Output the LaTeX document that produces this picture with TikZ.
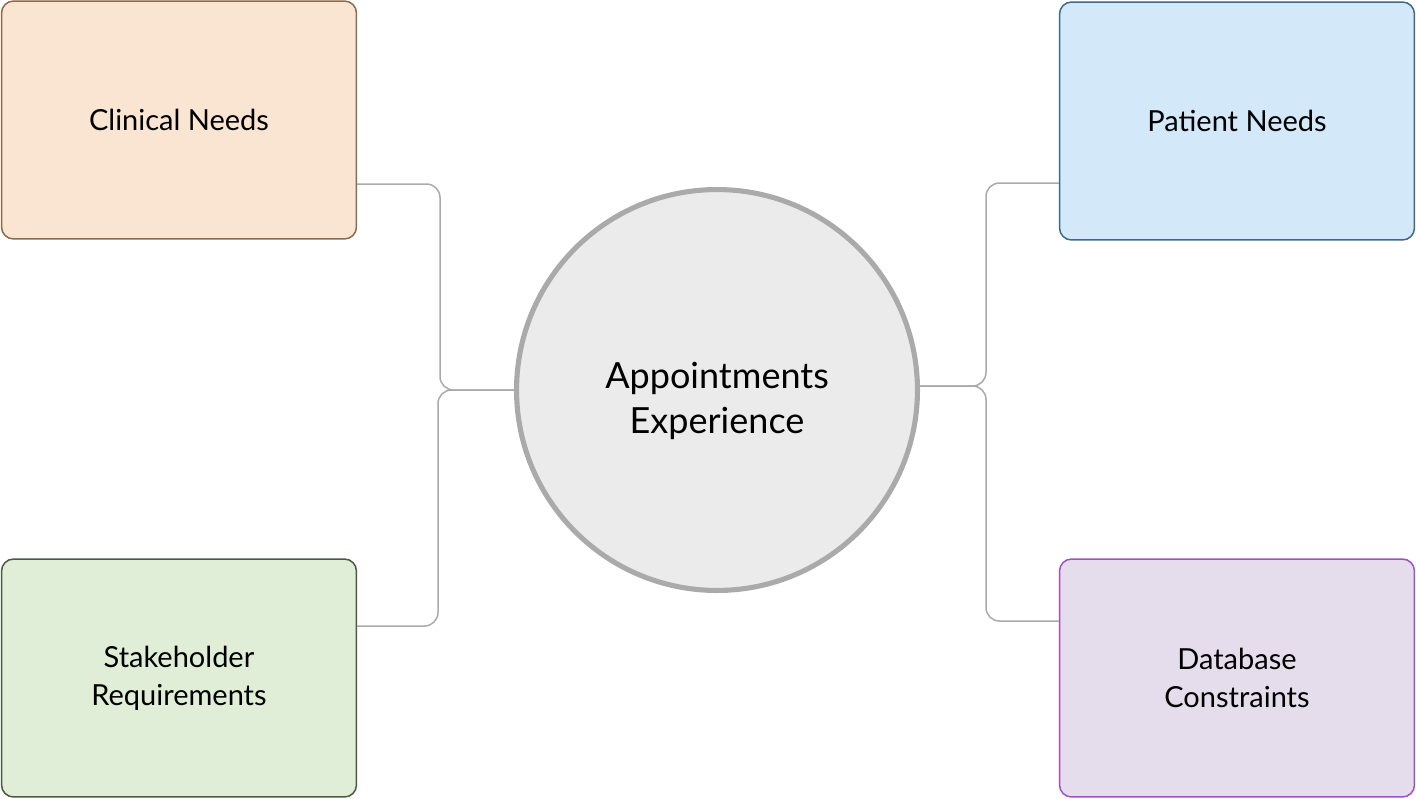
\documentclass[tikz,border=0pt]{standalone}
\usepackage{fontspec}
\setmainfont{Lato}
\usepackage{tikz}
\usetikzlibrary{calc}

\definecolor{clinfill}{HTML}{FAE5D3}
\definecolor{clindraw}{HTML}{8B6B4E}
\definecolor{patfill}{HTML}{D3E8F8}
\definecolor{patdraw}{HTML}{3E6A8A}
\definecolor{stakefill}{HTML}{E0EED8}
\definecolor{stakedraw}{HTML}{4A5A44}
\definecolor{dbfill}{HTML}{E5DDEB}
\definecolor{dbdraw}{HTML}{A050C8}
\definecolor{linkgray}{HTML}{AAAAAA}
\definecolor{hubfill}{HTML}{EBEBEB}

\begin{document}
\begin{tikzpicture}[x=0.02cm, y=-0.02cm]
					\tikzset{topic/.style = {shape=rectangle, rounded corners=0.24cm, line width=0.85pt,
							minimum width=7.1cm, minimum height=4.76cm, align=center,
							font=\fontsize{16.5}{21.5}\selectfont}}
					\tikzset{hub/.style = {shape=circle, fill=hubfill, draw=linkgray, line width=2.9pt,
							minimum size=8.02cm, font=\fontsize{20.5}{26}\selectfont}}
					\tikzset{link/.style = {draw=linkgray, line width=0.85pt, rounded corners=0.27cm}}
					\useasboundingbox (0,0) rectangle (1416,798);
					\node[hub] (hub) at (717,390)
						{\raisebox{-11.9pt}[0pt][0pt]{\begin{tabular}{@{}c@{}}Appointments\\Experience\end{tabular}}};
					\node[topic, fill=clinfill, draw=clindraw] (clinical) at (179,120) {Clinical Needs};
					\node[topic, fill=patfill, draw=patdraw] (patient) at (1237,121) {Patient Needs};
					\node[topic, fill=stakefill, draw=stakedraw] (stake) at (179,678) {Stakeholder\\Requirements};
					\node[topic, fill=dbfill, draw=dbdraw] (db) at (1237,678) {Database\\Constraints};
					% left side
					\draw[link] (hub.west) -- (440,390) -- (440,184) -- (clinical.east |- 0,184);
					\draw[link] (hub.west) -- (438,390) -- (438,626) -- (stake.east |- 0,626);
					% right side
					\draw[link] (hub.east |- 0,386) -- (986,386) -- (986,183) -- (patient.west |- 0,183);
					\draw[link] (hub.east |- 0,386) -- (986,386) -- (986,621) -- (db.west |- 0,621);
				\end{tikzpicture}
\end{document}
